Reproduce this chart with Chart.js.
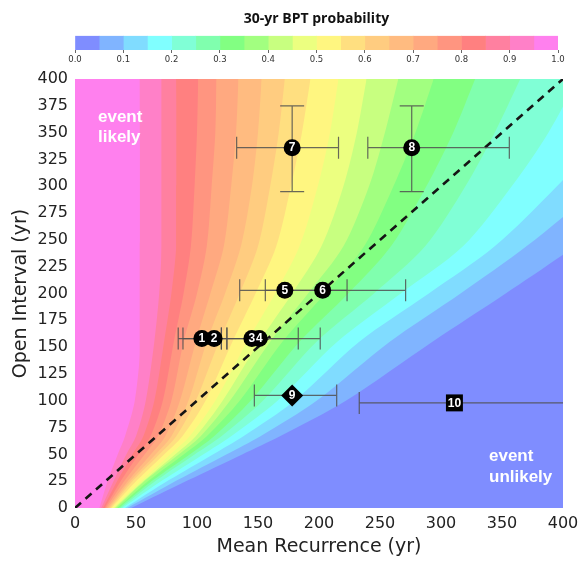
<!DOCTYPE html>
<html><head><meta charset="utf-8">
<script src="https://cdn.jsdelivr.net/npm/chart.js@4.4.0/dist/chart.umd.min.js"></script>
<style>
html,body{margin:0;padding:0;background:#fff;}
#wrap{position:relative;width:579px;height:561px;overflow:hidden;}
#main{position:absolute;left:0;top:0;}
#cbar{position:absolute;left:0;top:0;}
</style></head><body>
<div id="wrap"><canvas id="main" width="579" height="561"></canvas><canvas id="cbar" width="579" height="66"></canvas></div>
<script>
// ---------- colour bands of the 30-yr BPT probability (0.05 steps) ----------
const bandEdges = [0,0.05,0.10,0.15,0.20,0.25,0.30,0.35,0.40,0.45,0.50,0.55,0.60,0.65,0.70,0.75,0.80,0.85,0.90,0.95,1.0];
const bandColors = ['#7f8dff','#80b4ff','#80dcff','#80ffff','#80ffd6','#80ffae','#82ff82','#a2ff80','#c8ff80','#ecff80',
                    '#fff680','#ffdf80','#ffcc80','#ffbb80','#ffa980','#ff9580','#ff8080','#ff80a0','#ff80c8','#ff80ee'];
// ---------- contour lines: mean recurrence (yr) where probability = level, read at these open intervals ----------
const openIntervalLevels = [0, 26, 50, 67, 100, 155, 200, 244, 300, 350, 400];
const contour05 = [46, 93, 137, 168, 222, 293, 353, 410, 480, 540, 600];
const contour10 = [43, 84, 124, 152, 198, 258, 316, 370, 430, 480, 525];
const contour15 = [41, 77, 113, 138, 180, 233, 290, 344, 395, 435, 470];
const contour20 = [39, 72, 105, 128, 166, 215, 267, 318, 358, 388, 412];
const contour25 = [37.5, 67, 98, 120, 154, 198, 245, 287, 320, 344, 365];
const contour30 = [36, 64, 94, 114, 144, 184, 224, 259, 288, 310, 328];
const contour35 = [34.8, 61, 89, 108, 135, 170, 205, 237, 261, 279, 294];
const contour40 = [33.6, 58, 85, 103, 127, 160, 191, 220, 241, 254, 265];
const contour45 = [32.4, 57, 82, 99, 121, 151, 178, 202, 220, 231, 239];
const contour50 = [31.2, 55, 78, 94, 115, 141, 164, 184, 199, 209, 216];
const contour55 = [30, 51, 73, 88, 107, 129, 148, 165, 177, 186, 193];
const contour60 = [29, 48, 69, 83, 99, 118, 135, 150, 160, 167, 172];
const contour65 = [28, 46, 66, 79, 93, 108, 123, 136, 145, 150, 153];
const contour70 = [26.8, 44, 62, 74, 86, 99, 111, 122, 128, 132, 134];
const contour75 = [25.5, 41, 57, 68, 79, 89, 100, 108, 112, 115, 116];
const contour80 = [24.5, 38, 52, 62, 72, 81, 89, 95, 98, 100, 101];
const contour85 = [23, 35, 47, 56, 65, 73, 79, 83, 84, 84, 83];
const contour90 = [21.5, 32, 42, 50, 58, 65, 69, 71, 71, 71, 71];
const contour95 = [20, 27, 35, 41, 49, 54, 55, 54, 54, 53, 53];
const contours = [contour05,contour10,contour15,contour20,contour25,contour30,contour35,contour40,contour45,contour50,
                  contour55,contour60,contour65,contour70,contour75,contour80,contour85,contour90,contour95];
// ---------- paleoseismic events ----------
const eventLabels    = ['1','2','3','4','5','6','7','8','9','10'];
const meanRecurrence = [104, 114, 145, 151, 172, 203, 178, 276, 178, 311];
const openInterval   = [158, 158, 158, 158, 203, 203, 336, 336, 105, 98];
const recurrenceLow  = [84.6, 88.5, 120, 124.5, 135, 156, 132.5, 240, 147, 233];
const recurrenceHigh = [120, 124.5, 183, 201, 223, 271, 216, 356, 214.5, 430];
const intervalLow    = [null, null, null, null, null, null, 295, 295, null, null];
const intervalHigh   = [null, null, null, null, null, null, 375, 375, null, null];
const markerShapes   = ['circle','circle','circle','circle','circle','circle','circle','circle','rectRot','rect'];
const markerSizes    = [8.5, 8.5, 8.5, 8.5, 8.5, 8.5, 8.5, 8.5, 11, 12];
const diagonal = [{x:0,y:0},{x:400,y:400}];

// ---------- colour bar ----------
new Chart(document.getElementById('cbar'), {
  type: 'bar',
  data: { labels: [''], datasets: bandColors.map((c, i) => ({
    data: [bandEdges[i+1] - bandEdges[i]], backgroundColor: c, borderWidth: 0,
    barPercentage: 1, categoryPercentage: 1 })) },
  options: {
    indexAxis: 'y', responsive: false, animation: false, devicePixelRatio: 1, events: [],
    layout: { padding: { left: 75, right: 21, top: 7, bottom: 0 } },
    plugins: { legend: { display: false }, tooltip: { enabled: false },
      title: { display: true, text: '30-yr BPT probability', color: '#111',
        font: { family: 'Open Sans', weight: 'bold', size: 14 }, padding: { top: 4, bottom: 8 } } },
    scales: {
      x: { stacked: true, min: 0, max: 1,
        ticks: { stepSize: 0.1, autoSkip: false, maxRotation: 0, callback: v => v.toFixed(1),
          font: { family: 'DejaVu Sans', size: 8.5 }, color: '#333', padding: 2 },
        grid: { drawOnChartArea: false, tickLength: 3, color: '#666' }, border: { display: false },
        afterFit: s => { s.height = 16; } },
      y: { stacked: true, display: false }
    }
  }
});

// ---------- main chart ----------
const areaBg = { id: 'areaBg', beforeDatasetsDraw(chart) {
  const a = chart.chartArea, ctx = chart.ctx;
  ctx.save(); ctx.fillStyle = bandColors[0]; ctx.fillRect(a.left, a.top, a.right - a.left, a.bottom - a.top); ctx.restore();
}};
const errorBars = { id: 'errorBars', beforeDatasetDraw(chart, args) {
  if (args.index !== 0) return;
  const xs = chart.scales.x, ys = chart.scales.y, ctx = chart.ctx, a = chart.chartArea;
  ctx.save();
  ctx.beginPath(); ctx.rect(a.left, a.top, a.right - a.left, a.bottom - a.top); ctx.clip();
  ctx.strokeStyle = 'rgba(80,80,80,0.85)'; ctx.lineWidth = 1.2;
  for (let i = 0; i < meanRecurrence.length; i++) {
    const py = ys.getPixelForValue(openInterval[i]);
    const px = xs.getPixelForValue(meanRecurrence[i]);
    const x1 = xs.getPixelForValue(recurrenceLow[i]), x2 = xs.getPixelForValue(recurrenceHigh[i]);
    ctx.beginPath(); ctx.moveTo(x1, py); ctx.lineTo(x2, py);
    ctx.moveTo(x1, py - 11); ctx.lineTo(x1, py + 11);
    ctx.moveTo(x2, py - 11); ctx.lineTo(x2, py + 11); ctx.stroke();
    if (intervalLow[i] !== null) {
      const y1 = ys.getPixelForValue(intervalLow[i]), y2 = ys.getPixelForValue(intervalHigh[i]);
      ctx.beginPath(); ctx.moveTo(px, y1); ctx.lineTo(px, y2);
      ctx.moveTo(px - 12, y1); ctx.lineTo(px + 12, y1);
      ctx.moveTo(px - 12, y2); ctx.lineTo(px + 12, y2); ctx.stroke();
    }
  }
  ctx.restore();
}};
const markerText = { id: 'markerText', afterDatasetsDraw(chart) {
  const ctx = chart.ctx, meta = chart.getDatasetMeta(0);
  ctx.save();
  ctx.fillStyle = '#fff'; ctx.font = 'bold 12px "Liberation Sans", Arial, sans-serif';
  ctx.textAlign = 'center'; ctx.textBaseline = 'middle';
  meta.data.forEach((pt, i) => ctx.fillText(eventLabels[i], pt.x, pt.y + 0.5));
  const xs = chart.scales.x, ys = chart.scales.y;
  ctx.font = 'bold 17px "Liberation Sans", Arial, sans-serif'; ctx.textAlign = 'left';
  ctx.fillText('event', xs.left + 23, ys.top + 38);
  ctx.fillText('likely', xs.left + 23, ys.top + 58);
  ctx.fillText('event', xs.left + 414, ys.top + 377);
  ctx.fillText('unlikely', xs.left + 414, ys.top + 398);
  ctx.restore();
}};

const fillSets = [];
for (let i = contours.length - 1; i >= 0; i--) {
  const xsArr = contours[i];
  // lead-in point on the axis x = 0, continuing the first contour segment below y = 0 (clipped away)
  const leadY = -openIntervalLevels[1] * xsArr[0] / (xsArr[1] - xsArr[0]);
  fillSets.push({
    type: 'line',
    data: [{x: 0, y: leadY}].concat(xsArr.map((x, j) => ({x: x, y: openIntervalLevels[j]}))),
    backgroundColor: bandColors[i + 1], borderColor: 'rgba(0,0,0,0)', borderWidth: 0,
    pointRadius: 0, tension: 0.3, fill: 'end'
  });
}

new Chart(document.getElementById('main'), {
  type: 'line',
  data: { datasets: [
    { type: 'scatter', data: meanRecurrence.map((x, i) => ({x: x, y: openInterval[i]})),
      pointStyle: markerShapes, pointRadius: markerSizes, backgroundColor: '#000', borderColor: '#000', borderWidth: 0, showLine: false },
    { type: 'line', data: diagonal, borderColor: '#151515', borderWidth: 2.6, borderDash: [8, 6], pointRadius: 0, fill: false },
    ...fillSets
  ]},
  options: {
    responsive: false, animation: false, devicePixelRatio: 1, events: [],
    layout: { padding: { top: 79, right: 16, left: 0, bottom: 0 } },
    plugins: { legend: { display: false }, tooltip: { enabled: false } },
    scales: {
      x: { type: 'linear', min: 0, max: 400,
        ticks: { stepSize: 50, font: { family: 'DejaVu Sans', size: 16 }, color: '#222', padding: 6 },
        grid: { display: false, drawTicks: false }, border: { display: false },
        title: { display: true, text: 'Mean Recurrence (yr)', color: '#222',
          font: { family: 'DejaVu Sans', size: 19 }, padding: { top: 0, bottom: 3 } },
        afterFit: s => { s.height = 53; s.paddingLeft = 0; s.paddingRight = 0; } },
      y: { type: 'linear', min: 0, max: 400,
        ticks: { stepSize: 25, font: { family: 'DejaVu Sans', size: 16 }, color: '#222', padding: 7 },
        grid: { display: false, drawTicks: false }, border: { display: false },
        title: { display: true, text: 'Open Interval (yr)', color: '#222',
          font: { family: 'DejaVu Sans', size: 19 }, padding: { top: 10, bottom: 0 } },
        afterFit: s => { s.width = 75; s.paddingTop = 0; s.paddingBottom = 0; } }
    }
  },
  plugins: [areaBg, errorBars, markerText]
});
</script>
</body></html>
